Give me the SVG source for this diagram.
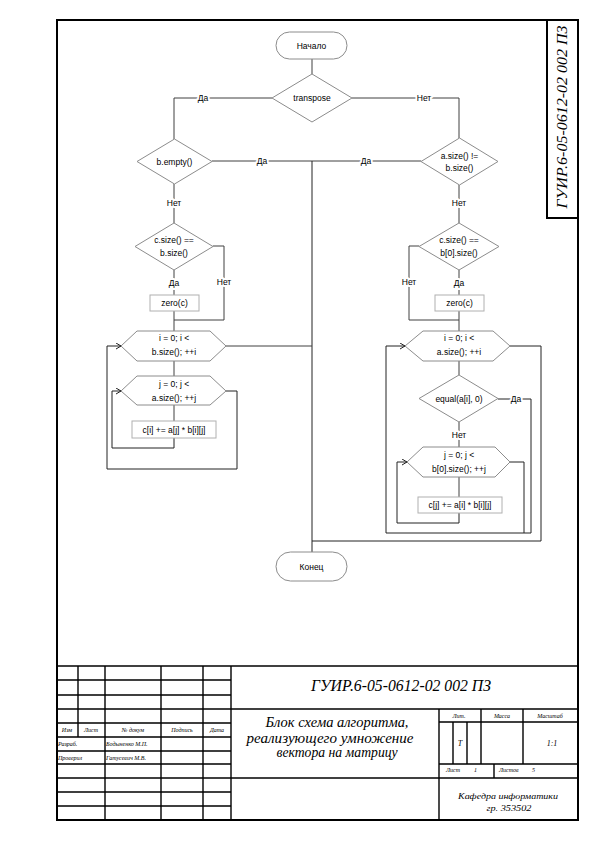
<svg xmlns="http://www.w3.org/2000/svg" width="595" height="842" viewBox="0 0 595 842">
<defs>
<style>
.frame{fill:none;stroke:#000;stroke-width:2}
.tb{fill:none;stroke:#000;stroke-width:1.4}
.shape{fill:#fff;stroke:#8c8c8c;stroke-width:1}
.box{fill:#fff;stroke:#b0b0b0;stroke-width:1}
.con{fill:none;stroke:#404040;stroke-width:1}
.loop{fill:none;stroke:#222;stroke-width:1}
.t{font-family:"Liberation Sans",Arial,sans-serif;font-size:8.5px;fill:#000;text-anchor:middle;dominant-baseline:central}
.lbl{font-family:"Liberation Sans",Arial,sans-serif;font-size:8.5px;fill:#000;text-anchor:middle;dominant-baseline:central;paint-order:stroke;stroke:#fff;stroke-width:4px;stroke-linejoin:round}
.s{font-family:"Liberation Serif","Times New Roman",serif;font-style:italic;fill:#000}
.sm{font-size:6px}
.mid{text-anchor:middle}
</style>
<marker id="arr" markerWidth="8" markerHeight="8" refX="5" refY="3" orient="auto" markerUnits="userSpaceOnUse">
<path d="M0,0 L5,3 L0,6" fill="none" stroke="#222" stroke-width="1"/>
</marker>
</defs>
<rect width="595" height="842" fill="#fff"/>

<g id="frame">
<rect class="frame" x="57" y="20" width="521" height="800"/>
<rect class="frame" x="547" y="20" width="31" height="198"/>
<text class="s" font-size="15" transform="translate(567,117) rotate(-90)" text-anchor="middle" textLength="183" lengthAdjust="spacingAndGlyphs">ГУИР.6-05-0612-02 002 ПЗ</text>
</g>

<g id="titleblock">
<line class="tb" x1="57" y1="666" x2="578" y2="666"/>
<line class="tb" x1="57" y1="709" x2="578" y2="709"/>
<line class="tb" x1="57" y1="778" x2="578" y2="778"/>
<path class="tb" d="M57,680H231M57,695H231M57,723H231M57,737H231M57,751H231M57,764H231M57,792H231M57,806H231"/>
<path class="tb" d="M78,666V737M105,666V820M161,666V820M203,666V820M231,666V820M439,709V820"/>
<path class="tb" d="M439,722H578M439,764H578M481,709V764M523,709V764M453,722V764M467,722V764M494,764V778"/>
<text class="s sm mid" x="67" y="732">Изм</text>
<text class="s sm mid" x="91" y="732">Лист</text>
<text class="s sm mid" x="133" y="732">№ докум</text>
<text class="s sm mid" x="182" y="732">Подпись</text>
<text class="s sm mid" x="217" y="732">Дата</text>
<text class="s sm" x="58" y="746">Разраб.</text>
<text class="s sm" x="106" y="746">Бодыненко М.П.</text>
<text class="s sm" x="58" y="760">Проверил</text>
<text class="s sm" x="106" y="760">Гатусевич М.В.</text>
<text class="s mid" font-size="17" x="401" y="691" textLength="180" lengthAdjust="spacingAndGlyphs">ГУИР.6-05-0612-02 002 ПЗ</text>
<text class="s mid" font-size="14" x="337" y="727" textLength="143" lengthAdjust="spacingAndGlyphs">Блок схема алгоритма,</text>
<text class="s mid" font-size="14" x="330" y="743" textLength="167" lengthAdjust="spacingAndGlyphs">реализующего умножение</text>
<text class="s mid" font-size="14" x="337" y="757" textLength="121" lengthAdjust="spacingAndGlyphs">вектора на матрицу</text>
<text class="s sm mid" x="459" y="718">Лит.</text>
<text class="s sm mid" x="502" y="718">Масса</text>
<text class="s sm mid" x="550" y="718">Масштаб</text>
<text class="s mid" font-size="8" x="460" y="746">Т</text>
<text class="s mid" font-size="8" x="552" y="746">1:1</text>
<text class="s sm" x="446" y="772">Лист</text>
<text class="s sm" x="474" y="772">1</text>
<text class="s sm" x="499" y="772">Листов</text>
<text class="s sm" x="532" y="772">5</text>
<text class="s mid" font-size="9" x="508" y="799" textLength="100" lengthAdjust="spacingAndGlyphs">Кафедра информатики</text>
<text class="s mid" font-size="9" x="509" y="811" textLength="45" lengthAdjust="spacingAndGlyphs">гр. 353502</text>
</g>

<g id="connectors">
<line class="con" x1="312" y1="59" x2="312" y2="74"/>
<polyline class="con" points="272,98 174,98 174,139"/>
<polyline class="con" points="352,98 459,98 459,138"/>
<line class="con" x1="212" y1="161" x2="421" y2="161"/>
<line class="loop" x1="312" y1="161" x2="312" y2="552"/>
<line class="con" x1="174" y1="184" x2="174" y2="223"/>
<line class="con" x1="174" y1="270" x2="174" y2="295"/>
<polyline class="con" points="213,246 224,246 224,320 174,320"/>
<line class="con" x1="174" y1="311" x2="174" y2="331"/>
<line class="con" x1="226" y1="346" x2="312" y2="346"/>
<line class="con" x1="174" y1="361" x2="174" y2="376"/>
<line class="con" x1="174" y1="405" x2="174" y2="421"/>
<polyline class="loop" points="174,438 174,448 112,448 112,391 121,391" marker-end="url(#arr)"/>
<polyline class="loop" points="226,391 237,391 237,469 107,469 107,346 121,346" marker-end="url(#arr)"/>
<line class="con" x1="459" y1="185" x2="459" y2="223"/>
<line class="con" x1="459" y1="270" x2="459" y2="295"/>
<polyline class="con" points="419,246 409,246 409,320 459,320"/>
<line class="con" x1="459" y1="311" x2="459" y2="331"/>
<polyline class="loop" points="510,346 541,346 541,541 312,541"/>
<line class="con" x1="459" y1="361" x2="459" y2="375"/>
<line class="con" x1="459" y1="422" x2="459" y2="447"/>
<polyline class="loop" points="498,399 531,399 531,533 386,533 386,346 405,346" marker-end="url(#arr)"/>
<line class="con" x1="459" y1="477" x2="459" y2="497"/>
<polyline class="loop" points="459,513 459,523 397,523 397,462 407,462" marker-end="url(#arr)"/>
<polyline class="loop" points="510,462 524,462 524,533"/>
<text class="lbl" x="203" y="98">Да</text>
<text class="lbl" x="424" y="98">Нет</text>
<text class="lbl" x="262" y="161">Да</text>
<text class="lbl" x="366" y="161">Да</text>
<text class="lbl" x="174" y="203">Нет</text>
<text class="lbl" x="174" y="283">Да</text>
<text class="lbl" x="224" y="282">Нет</text>
<text class="lbl" x="459" y="203">Нет</text>
<text class="lbl" x="459" y="283">Да</text>
<text class="lbl" x="409" y="282">Нет</text>
<text class="lbl" x="459" y="435">Нет</text>
<text class="lbl" x="516" y="399">Да</text>
</g>

<g id="start">
<rect class="shape" x="276" y="32" width="71" height="27" rx="13.5"/>
<text class="t" x="311.5" y="45.5">Начало</text>
</g>
<g id="transpose">
<polygon class="shape" points="312,74 352,98 312,122 272,98"/>
<text class="t" x="312" y="98">transpose</text>
</g>
<g id="b_empty">
<polygon class="shape" points="174.5,139 212,161.5 174.5,184 137,161.5"/>
<text class="t" x="174.5" y="161.5">b.empty()</text>
</g>
<g id="a_size">
<polygon class="shape" points="459.5,138 498,161.5 459.5,185 421,161.5"/>
<text class="t" x="459.5" y="156">a.size() !=</text>
<text class="t" x="459.5" y="168">b.size()</text>
</g>
<g id="c_size_left">
<polygon class="shape" points="174,223 213,246.5 174,270 135,246.5"/>
<text class="t" x="174" y="240">c.size() ==</text>
<text class="t" x="174" y="253">b.size()</text>
</g>
<g id="c_size_right">
<polygon class="shape" points="459,223 499,246.5 459,270 419,246.5"/>
<text class="t" x="459" y="240">c.size() ==</text>
<text class="t" x="459" y="253">b[0].size()</text>
</g>
<g id="zero_left">
<rect class="box" x="150" y="295" width="49" height="16"/>
<text class="t" x="174.5" y="303">zero(c)</text>
</g>
<g id="zero_right">
<rect class="box" x="435" y="295" width="49" height="16"/>
<text class="t" x="459.5" y="303">zero(c)</text>
</g>
<g id="loop_i_left">
<polygon class="shape" points="121,346 137,331 210,331 226,346 210,361 137,361"/>
<text class="t" x="174" y="338">i = 0; i &lt;</text>
<text class="t" x="174" y="352">b.size(); ++i</text>
</g>
<g id="loop_j_left">
<polygon class="shape" points="121,391 137,376 210,376 226,391 210,405 137,405"/>
<text class="t" x="174" y="384">j = 0; j &lt;</text>
<text class="t" x="174" y="398">a.size(); ++j</text>
</g>
<g id="body_left">
<rect class="box" x="132" y="421" width="84" height="17"/>
<text class="t" x="174" y="429.5">c[i] += a[j] * b[i][j]</text>
</g>
<g id="loop_i_right">
<polygon class="shape" points="405,346 423,331 493,331 510,346 493,361 423,361"/>
<text class="t" x="459" y="338">i = 0; i &lt;</text>
<text class="t" x="459" y="352">a.size(); ++i</text>
</g>
<g id="equal">
<polygon class="shape" points="459,375 498,398.5 459,422 419,398.5"/>
<text class="t" x="459" y="398.5">equal(a[i], 0)</text>
</g>
<g id="loop_j_right">
<polygon class="shape" points="407,462 423,447 495,447 510,462 495,477 423,477"/>
<text class="t" x="459" y="455">j = 0; j &lt;</text>
<text class="t" x="459" y="469">b[0].size(); ++j</text>
</g>
<g id="body_right">
<rect class="box" x="418" y="497" width="84" height="16"/>
<text class="t" x="460" y="505">c[j] += a[i] * b[i][j]</text>
</g>
<g id="end">
<rect class="shape" x="276" y="552" width="71" height="29" rx="14.5"/>
<text class="t" x="311.5" y="566.5">Конец</text>
</g>
</svg>
